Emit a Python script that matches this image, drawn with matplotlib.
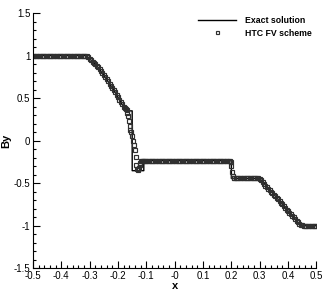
import matplotlib
matplotlib.use('Agg')
import matplotlib.pyplot as plt
import numpy as np
from matplotlib.ticker import MultipleLocator

plt.rcParams['font.family'] = ['Liberation Sans', 'DejaVu Sans']

# Exact solution, vertical jumps as repeated x
exact_x = [-0.5, -0.312, -0.29, -0.27, -0.25, -0.23, -0.21, -0.19, -0.176, -0.167,
           -0.150, -0.150, -0.109, -0.109, 0.200, 0.200,
           0.300, 0.33, 0.36, 0.39, 0.42, 0.435, 0.447, 0.5]
exact_by = [1.0, 1.0, 0.93, 0.86, 0.77, 0.67, 0.57, 0.45, 0.38, 0.35,
            0.35, -0.353, -0.353, -0.235, -0.235, -0.444,
            -0.444, -0.56, -0.67, -0.79, -0.90, -0.96, -1.0, -1.0]

# HTC FV scheme (uniform mesh, dx = 0.005)
dx = 0.005
# left state
seg1_x = np.arange(-0.500, -0.3175, dx)
seg1_by = [1.0, 1.0, 1.0, 1.0, 1.0, 1.0, 1.0, 1.0, 1.0, 1.0,
           1.0, 1.0, 1.0, 1.0, 1.0, 1.0, 1.0, 1.0, 1.0, 1.0,
           1.0, 1.0, 1.0, 1.0, 1.0, 1.0, 1.0, 1.0, 1.0, 1.0,
           1.0, 1.0, 1.0, 1.0, 1.0, 1.0, 1.0]
# left rarefaction
seg2_x = np.arange(-0.315, -0.1725, dx)
seg2_by = [1.0, 0.995, 0.98, 0.965, 0.948, 0.93, 0.913, 0.895, 0.878, 0.86,
           0.838, 0.815, 0.793, 0.77, 0.745, 0.72, 0.695, 0.67, 0.645, 0.62,
           0.595, 0.57, 0.54, 0.51, 0.48, 0.45, 0.425, 0.40, 0.38]
# smeared compound wave (points read one by one)
seg3_x = [-0.172, -0.170, -0.167, -0.165, -0.162, -0.159, -0.156, -0.153, -0.149, -0.146,
          -0.144, -0.141, -0.138, -0.135, -0.132, -0.129, -0.127, -0.124, -0.121, -0.118,
          -0.115, -0.112]
seg3_by = [0.37, 0.355, 0.33, 0.29, 0.23, 0.17, 0.13, 0.10, 0.055, 0.0,
           -0.05, -0.11, -0.195, -0.285, -0.335, -0.34, -0.32, -0.29, -0.26, -0.24,
           -0.235, -0.235]
# middle plateau
seg4_x = np.arange(-0.110, 0.1975, dx)
seg4_by = [-0.235, -0.235, -0.235, -0.235, -0.235, -0.235, -0.235, -0.235, -0.235, -0.235,
           -0.235, -0.235, -0.235, -0.235, -0.235, -0.235, -0.235, -0.235, -0.235, -0.235,
           -0.235, -0.235, -0.235, -0.235, -0.235, -0.235, -0.235, -0.235, -0.235, -0.235,
           -0.235, -0.235, -0.235, -0.235, -0.235, -0.235, -0.235, -0.235, -0.235, -0.235,
           -0.235, -0.235, -0.235, -0.235, -0.235, -0.235, -0.235, -0.235, -0.235, -0.235,
           -0.235, -0.235, -0.235, -0.235, -0.235, -0.235, -0.235, -0.235, -0.235, -0.235,
           -0.235, -0.235]
# jump near x = 0.2
seg5_x = [0.1975, 0.200, 0.2025, 0.205, 0.2075, 0.210]
seg5_by = [-0.25, -0.30, -0.37, -0.42, -0.44, -0.444]
# second plateau
seg6_x = np.arange(0.215, 0.2975, dx)
seg6_by = [-0.444, -0.444, -0.444, -0.444, -0.444, -0.444, -0.444, -0.444, -0.444, -0.444,
           -0.444, -0.444, -0.444, -0.444, -0.444, -0.444, -0.444]
# right rarefaction
seg7_x = np.arange(0.300, 0.4525, dx)
seg7_by = [-0.447, -0.465, -0.49, -0.51, -0.53, -0.548, -0.565, -0.583, -0.60, -0.618,
           -0.635, -0.653, -0.67, -0.69, -0.71, -0.73, -0.75, -0.77, -0.79, -0.81,
           -0.83, -0.848, -0.865, -0.883, -0.90, -0.92, -0.94, -0.958, -0.975, -0.988,
           -0.995]
# right state
seg8_x = np.arange(0.455, 0.5025, dx)
seg8_by = [-1.0, -1.0, -1.0, -1.0, -1.0, -1.0, -1.0, -1.0, -1.0, -1.0]

num_x = np.concatenate([seg1_x, seg2_x, seg3_x, seg4_x, seg5_x, seg6_x, seg7_x, seg8_x])
num_by = np.concatenate([seg1_by, seg2_by, seg3_by, seg4_by, seg5_by, seg6_by, seg7_by, seg8_by])

fig = plt.figure(figsize=(3.32, 2.96), dpi=100)
ax = fig.add_axes([0.0994, 0.0936, 0.8536, 0.8625])

ax.plot(exact_x, exact_by, color='black', lw=1.0, label='Exact solution')
ax.plot(num_x, num_by, ls='none', marker='s', ms=2.7, mfc='none', mec='#303030',
        mew=0.85, label='HTC FV scheme')

ax.set_xlim(-0.5, 0.5)
ax.set_ylim(-1.5, 1.5)
xticks = np.round(np.arange(-0.5, 0.51, 0.1), 1)
yticks = [-1.5, -1.0, -0.5, 0.0, 0.5, 1.0, 1.5]
ax.set_xticks(xticks)
ax.set_xticklabels([f'{v:g}' for v in xticks])
ax.set_yticks(yticks)
ax.set_yticklabels([f'{v:g}' for v in yticks])
ax.xaxis.set_minor_locator(MultipleLocator(0.02))
ax.yaxis.set_minor_locator(MultipleLocator(0.1))

for side in ['top', 'right']:
    ax.spines[side].set_visible(False)
ax.tick_params(which='both', direction='in', labelsize=7, width=0.8, pad=2)
ax.tick_params(which='major', length=5)
ax.tick_params(which='minor', length=2.5)

ax.set_xlabel('x', fontsize=8, fontweight='bold', labelpad=0)
ax.set_ylabel('By', fontsize=8, fontweight='bold')
ax.yaxis.set_label_coords(-0.075, 0.5)

leg = ax.legend(loc='upper right', bbox_to_anchor=(0.995, 1.0), borderaxespad=0,
                frameon=False, prop={'size': 6.3, 'weight': 'bold'}, handlelength=4.3,
                handletextpad=1.0, labelspacing=0.35, markerscale=0.8)

fig.savefig('out.png', dpi=100)
